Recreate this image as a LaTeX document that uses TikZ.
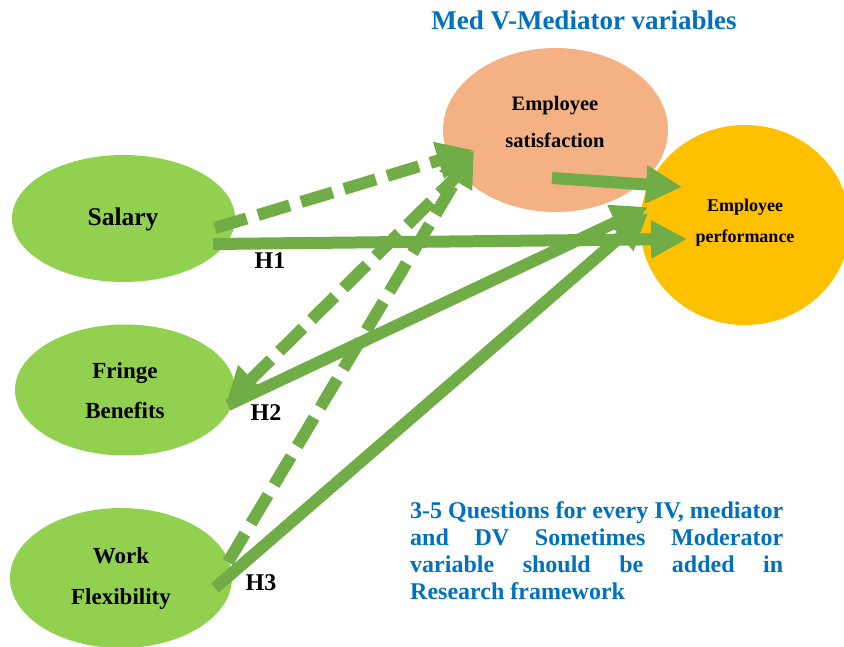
\documentclass[tikz,border=0pt]{standalone}
\usepackage{fontspec}
\setmainfont{Liberation Serif}
\usetikzlibrary{shapes.geometric,arrows.meta,calc}

\definecolor{ivgreen}{HTML}{92D050}
\definecolor{arrowgreen}{HTML}{70AD47}
\definecolor{medorange}{HTML}{F4B183}
\definecolor{dvgold}{HTML}{FFC000}
\definecolor{noteblue}{HTML}{0070C0}

\tikzset{
  var/.style={ellipse, inner sep=0pt, draw=none},
  lbl/.style={font=\bfseries, text=black, align=center, inner sep=0pt},
  link/.style={draw=arrowgreen, line width=12pt,
               -{Triangle[length=36pt,width=36pt]}},
  maybe/.style={link, dash pattern=on 33pt off 12pt},
}

\begin{document}
\begin{tikzpicture}[x=1pt,y=-1pt]
\useasboundingbox (0,0) rectangle (844,647);

% variables
\node[var, fill=ivgreen, minimum width=223pt, minimum height=127pt] (sal) at (123.5,218.5) {};
\node[var, fill=ivgreen, minimum width=220pt, minimum height=131pt] (fri) at (125,390) {};
\node[var, fill=ivgreen, minimum width=222pt, minimum height=140pt] (wor) at (121,578) {};
\node[var, fill=medorange, minimum width=225pt, minimum height=164pt] (sat) at (555.5,130) {};
\node[var, fill=dvgold, minimum width=210pt, minimum height=200pt] (perf) at (745,225) {};

% labels
\node[lbl, font=\bfseries\fontsize{25.5}{30}\selectfont] (salT) at (123,219) {Salary};
\node[lbl, font=\bfseries\fontsize{23}{40}\selectfont] (friT) at (125,391) {Fringe\\Benefits};
\node[lbl, font=\bfseries\fontsize{23}{41}\selectfont] (worT) at (121,578) {Work\\Flexibility};
\node[lbl, font=\bfseries\fontsize{20.5}{37}\selectfont] (satT) at (555,122) {Employee\\satisfaction};
\node[lbl, font=\bfseries\fontsize{18}{31}\selectfont] (perfT) at (745,223) {Employee\\performance};

% connector end points
\coordinate (salA) at ($(sal)+(91.5,9.5)$);
\coordinate (salB) at ($(sal)+(89.5,25.5)$);
\coordinate (satIn1) at ($(sat)+(-82.5,20)$);
\coordinate (satIn2) at ($(sat)+(-81.5,20)$);
\coordinate (satOut1) at ($(sat)+(-3.5,48)$);
\coordinate (satOut2) at ($(sat)+(-92.5,40)$);
\coordinate (perfIn1) at ($(perf)+(-58,14)$);
\coordinate (perfIn2) at ($(perf)+(-63,-38)$);
\coordinate (perfIn3) at ($(perf)+(-97,-18)$);
\coordinate (perfIn4) at ($(perf)+(-97,-12)$);
\coordinate (friA) at ($(fri)+(103,15)$);
\coordinate (friIn) at ($(fri)+(101,14)$);
\coordinate (worA) at ($(wor)+(94,10)$);
\coordinate (worB) at ($(wor)+(107,-16)$);

% paths
\draw[maybe] (salA) -- (satIn1);
\draw[maybe] (worB) -- (satIn2);
\draw[maybe] (satOut2) -- (friIn);
\draw[link] (salB) -- (perfIn1);
\draw[link] (satOut1) -- (perfIn2);
\draw[link] (friA) -- (perfIn3);
\draw[link] (worA) -- (perfIn4);

% hypothesis tags
\node[lbl, font=\bfseries\fontsize{24}{28}\selectfont] (h1) at (270,261) {H1};
\node[lbl, font=\bfseries\fontsize{24}{28}\selectfont] (h2) at (266,413) {H2};
\node[lbl, font=\bfseries\fontsize{24}{28}\selectfont] (h3) at (261,583) {H3};

% notes
\node[lbl, text=noteblue, font=\bfseries\fontsize{27}{30}\selectfont] (title) at (584,20) {Med V-Mediator variables};
\node[lbl, text=noteblue, anchor=north west, align=left,
      font=\bfseries\fontsize{24}{27}\selectfont] (note) at (410,501) {%
  \hbox to 373pt{3-5\hfill Questions\hfill for\hfill every\hfill IV,\hfill mediator}\\
  \hbox to 373pt{and\hfill DV\hfill Sometimes\hfill Moderator}\\
  \hbox to 373pt{variable\hfill should\hfill be\hfill added\hfill in}\\
  Research framework};

\end{tikzpicture}
\end{document}
